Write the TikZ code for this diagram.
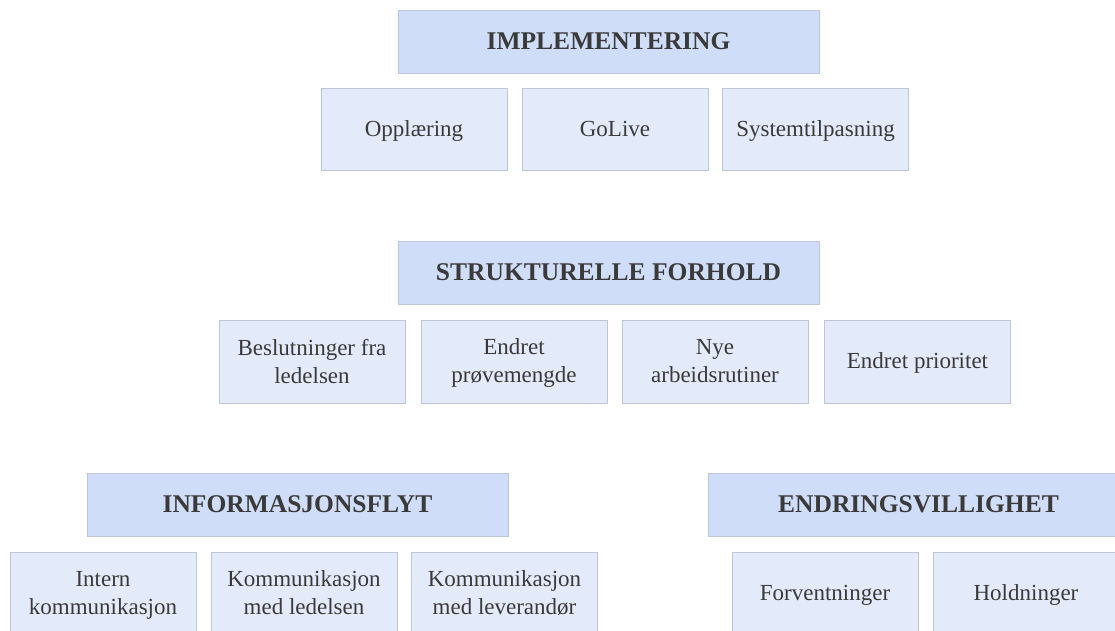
\documentclass[tikz,border=0pt]{standalone}
\usepackage{fontspec}
\setmainfont{Liberation Serif}
\newfontfamily\boxfont{Liberation Serif}
\definecolor{headfill}{HTML}{CFDDF8}
\definecolor{itemfill}{HTML}{E3EAFA}
\definecolor{boxline}{HTML}{BFC7D6}
\definecolor{textgray}{HTML}{3A3A3A}
\tikzset{
  head/.style={draw=boxline, fill=headfill, text=textgray, minimum width=421pt, minimum height=63pt, inner sep=0pt, font=\boxfont\fontsize{25.5}{29}\selectfont\bfseries},
  item/.style={draw=boxline, fill=itemfill, text=textgray, minimum width=186pt, minimum height=82pt, inner sep=0pt, text depth=0.1em, align=center, font=\boxfont\fontsize{23}{28}\selectfont}
}

\begin{document}
\begin{tikzpicture}[x=1pt,y=-1pt]
\useasboundingbox (0,0) rectangle (1115,630);
% Implementering
\node[head] (impl) at (608.5,41.5) {IMPLEMENTERING};
\node[item] (oppl) at (414,129) {Opplæring};
\node[item] (golive) at (615,129) {GoLive};
\node[item] (systil) at (815.5,129) {Systemtilpasning};
% Strukturelle forhold
\node[head] (strukt) at (608.5,272.5) {STRUKTURELLE FORHOLD};
\node[item, minimum height=83pt] (beslut) at (312,361.5) {Beslutninger fra\\ledelsen};
\node[item, minimum height=83pt] (provem) at (514,361.5) {Endret\\prøvemengde};
\node[item, minimum height=83pt] (arbrut) at (715,361.5) {Nye\\arbeidsrutiner};
\node[item, minimum height=83pt] (prior) at (917.5,361.5) {Endret prioritet};
% Informasjonsflyt
\node[head] (info) at (297.5,504.5) {INFORMASJONSFLYT};
\node[item] (intern) at (103,593) {Intern\\kommunikasjon};
\node[item] (komled) at (304,593) {Kommunikasjon\\med ledelsen};
\node[item] (komlev) at (504.5,593) {Kommunikasjon\\med leverandør};
% Endringsvillighet
\node[head] (endr) at (918.5,504.5) {ENDRINGSVILLIGHET};
\node[item] (forv) at (825,593) {Forventninger};
\node[item] (hold) at (1026,593) {Holdninger};
\end{tikzpicture}
\end{document}
